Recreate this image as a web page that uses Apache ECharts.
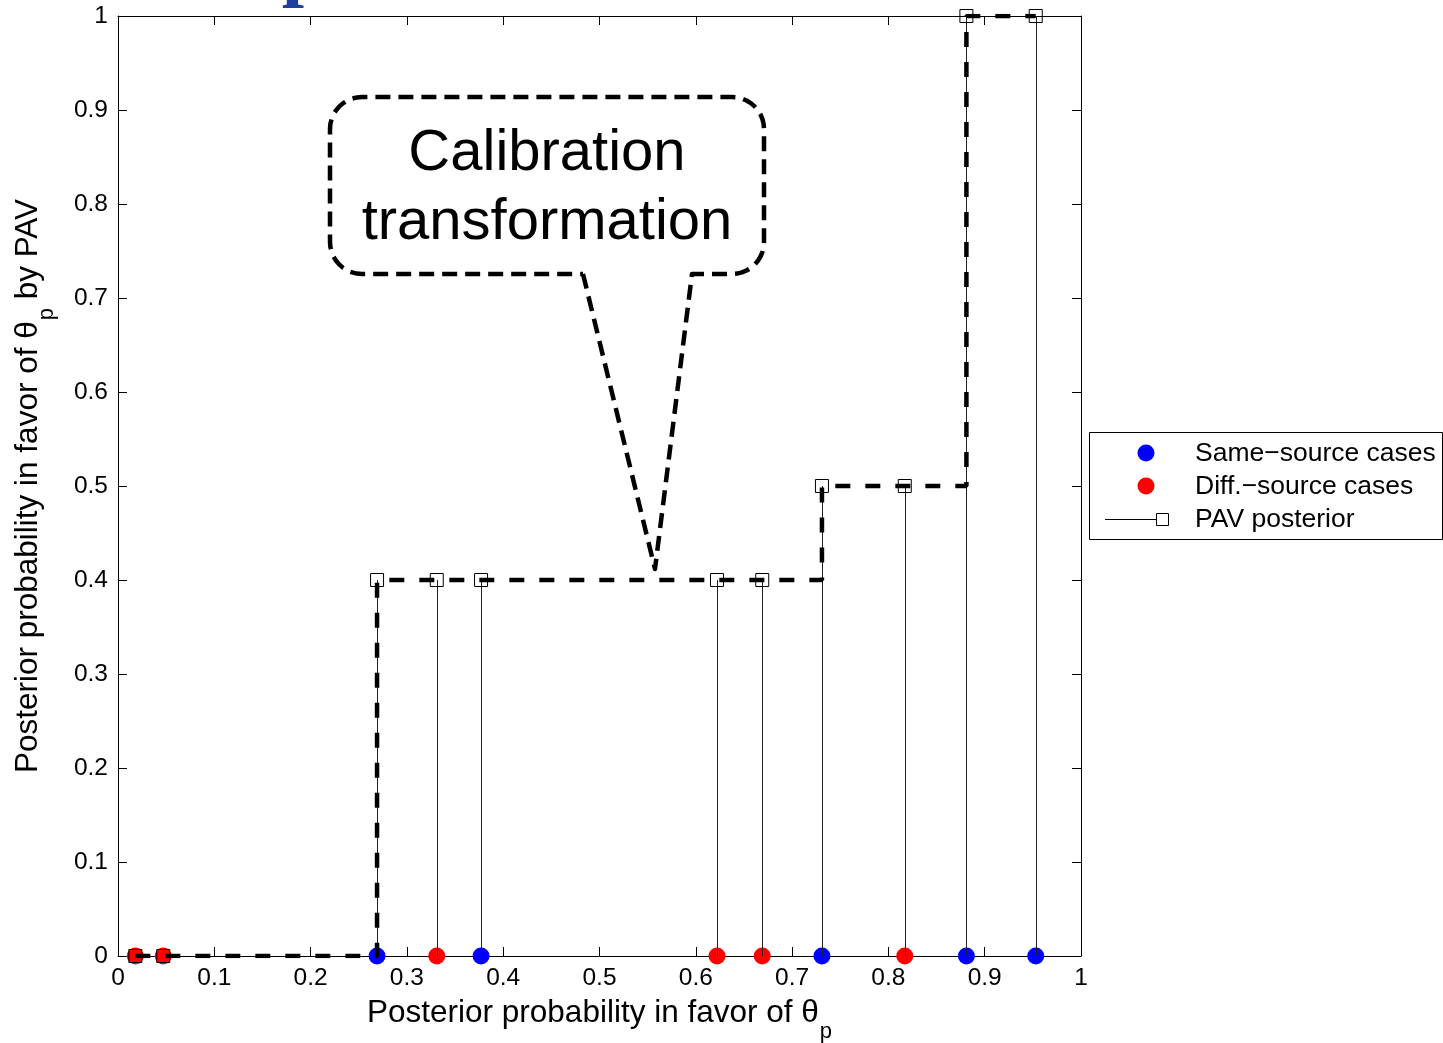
<!DOCTYPE html>
<html>
<head>
<meta charset="utf-8">
<script src="https://cdn.jsdelivr.net/npm/echarts@6/dist/echarts.min.js"></script>
<style>
  html, body { margin: 0; padding: 0; background: #fff; }
  #chart { width: 1443px; height: 1043px; }
</style>
</head>
<body>
<div id="chart"></div>
<script>
// Raw posterior probabilities of the test cases and their PAV-calibrated values
const posteriorX = [0.018, 0.047, 0.269, 0.331, 0.377, 0.622, 0.669, 0.731, 0.817, 0.881, 0.953];
const pavY       = [0,     0,     0.4,   0.4,   0.4,   0.4,   0.4,   0.5,   0.5,   1,     1];
// Which cases are same-source and which are different-source
const sameSource = [0.269, 0.377, 0.731, 0.881, 0.953];
const diffSource = [0.018, 0.047, 0.331, 0.622, 0.669, 0.817];
const tickValues = [0, 0.1, 0.2, 0.3, 0.4, 0.5, 0.6, 0.7, 0.8, 0.9, 1];

const FONT = '"Liberation Sans", Arial, Helvetica, sans-serif';
const pavPoints = posteriorX.map((x, i) => [x, pavY[i]]);

const chart = echarts.init(document.getElementById('chart'), null, { renderer: 'canvas' });

function tickFmt(v) {
  return tickValues.some(t => Math.abs(t - v) < 1e-9) ? String(+v.toFixed(1)) : '';
}

const axisBase = {
  type: 'value', min: 0, max: 1, interval: 0.1,
  axisLine: { show: true, onZero: false, lineStyle: { color: '#000', width: 1 } },
  axisTick: { show: true, inside: true, length: 9, lineStyle: { color: '#000', width: 1 } },
  splitLine: { show: false }
};

const nameRich = {
  a: { fontFamily: FONT, fontSize: 31.5, color: '#000' },
  s: { fontFamily: FONT, fontSize: 22, color: '#000', padding: [38, 0, 0, 1] }
};

// Rounded speech-bubble outline with a pointer
function calloutPoints() {
  const x0 = 330, y0 = 97, x1 = 764, y1 = 274, r = 32;
  const pts = [];
  const arc = (cx, cy, a0, a1) => {
    for (let k = 0; k <= 10; k++) {
      const a = a0 + (a1 - a0) * k / 10;
      pts.push([cx + r * Math.cos(a), cy + r * Math.sin(a)]);
    }
  };
  pts.push([583, y1], [655, 569], [692, y1]);
  arc(x1 - r, y1 - r, Math.PI / 2, 0);
  arc(x1 - r, y0 + r, 0, -Math.PI / 2);
  arc(x0 + r, y0 + r, -Math.PI / 2, -Math.PI);
  arc(x0 + r, y1 - r, Math.PI, Math.PI / 2);
  pts.push([583, y1]);
  return pts;
}

const legendItems = [
  { kind: 'dot', color: '#0000ff', text: 'Same\u2212source cases', y: 454 },
  { kind: 'dot', color: '#ff0000', text: 'Diff.\u2212source cases', y: 487 },
  { kind: 'stem', text: 'PAV posterior', y: 520 }
];
const legendGraphics = [
  { type: 'rect', shape: { x: 1089.5, y: 432.5, width: 353, height: 107 },
    style: { fill: '#fff', stroke: '#000', lineWidth: 1 }, z: 50 }
];
legendItems.forEach(it => {
  if (it.kind === 'dot') {
    legendGraphics.push({ type: 'circle', shape: { cx: 1146, cy: it.y - 1, r: 8.5 }, style: { fill: it.color }, z: 51 });
  } else {
    legendGraphics.push({ type: 'line', shape: { x1: 1105, y1: it.y - 0.5, x2: 1156, y2: it.y - 0.5 },
      style: { stroke: '#000', lineWidth: 1 }, z: 51 });
    legendGraphics.push({ type: 'rect', shape: { x: 1156.5, y: it.y - 6.5, width: 12, height: 12 },
      style: { fill: 'none', stroke: '#000', lineWidth: 1 }, z: 51 });
  }
  legendGraphics.push({ type: 'text', x: 1195, y: it.y,
    style: { text: it.text, font: '26.5px ' + FONT, fill: '#000', verticalAlign: 'middle', align: 'left' }, z: 51 });
});

const option = {
  backgroundColor: '#fff',
  animation: false,
  grid: { left: 118, right: 362, top: 16, bottom: 87, containLabel: false, outerBoundsMode: 'none' },
  xAxis: [
    Object.assign({}, axisBase, {
      position: 'bottom',
      axisLabel: { show: true, color: '#000', fontFamily: FONT, fontSize: 24.5, margin: 10, formatter: tickFmt },
      name: '{a|Posterior probability in favor of \u03b8}{s|p}',
      nameLocation: 'middle', nameGap: 27,
      nameTextStyle: { rich: nameRich }
    }),
    Object.assign({}, axisBase, { position: 'top', axisLabel: { show: false } })
  ],
  yAxis: [
    Object.assign({}, axisBase, {
      position: 'left',
      axisLabel: { show: true, color: '#000', fontFamily: FONT, fontSize: 24.5, margin: 10, formatter: tickFmt },
      name: '{a|Posterior probability in favor of \u03b8}{s|p}{a| by PAV}',
      nameLocation: 'middle', nameGap: 60, nameRotate: 90,
      nameTextStyle: { rich: nameRich }
    }),
    Object.assign({}, axisBase, { position: 'right', axisLabel: { show: false } })
  ],
  series: [
    {
      name: 'Same\u2212source cases', type: 'scatter', symbol: 'circle', symbolSize: 17,
      itemStyle: { color: '#0000ff', opacity: 1 }, z: 2,
      data: sameSource.map(x => [x, 0])
    },
    {
      name: 'Diff.\u2212source cases', type: 'scatter', symbol: 'circle', symbolSize: 17,
      itemStyle: { color: '#ff0000', opacity: 1 }, z: 2,
      data: diffSource.map(x => [x, 0])
    },
    {
      // thin stems from the axis up to each PAV value
      name: 'PAV posterior stems', type: 'custom', z: 3,
      data: pavPoints,
      renderItem: function (params, api) {
        const top = api.coord([api.value(0), api.value(1)]);
        const base = api.coord([api.value(0), 0]);
        const x = Math.round(top[0]) + 0.5;
        return {
          type: 'line',
          shape: { x1: x, y1: base[1], x2: x, y2: top[1] },
          style: { stroke: '#222', lineWidth: 1 }
        };
      }
    },
    {
      name: 'PAV posterior', type: 'scatter', symbol: 'rect', symbolSize: 13,
      itemStyle: { color: 'rgba(0,0,0,0)', borderColor: '#000', borderWidth: 1, opacity: 1 }, z: 4,
      data: pavPoints
    },
    {
      // calibration transformation as a dashed step function
      name: 'Calibration transformation', type: 'line', step: 'end', symbol: 'none', z: 5,
      lineStyle: { color: '#000', width: 4.5, type: [15, 15], cap: 'butt' },
      data: pavPoints
    }
  ],
  graphic: [
    {
      type: 'text', x: 304, y: 10, z: 10,
      style: { text: 'p', font: 'bold 80px "Liberation Serif", "DejaVu Serif", serif', fill: '#1f3f9f',
               align: 'center', verticalAlign: 'bottom' }
    },
    {
      type: 'polyline', z: 20,
      shape: { points: calloutPoints() },
      style: { fill: null, stroke: '#000', lineWidth: 4.5, lineDash: [15, 8], lineJoin: 'round' }
    },
    {
      type: 'text', x: 547, y: 188, z: 21,
      style: { text: 'Calibration\ntransformation', font: '58px ' + FONT, fill: '#000',
               align: 'center', verticalAlign: 'middle', lineHeight: 69 }
    }
  ].concat(legendGraphics)
};

chart.setOption(option);
</script>
</body>
</html>
